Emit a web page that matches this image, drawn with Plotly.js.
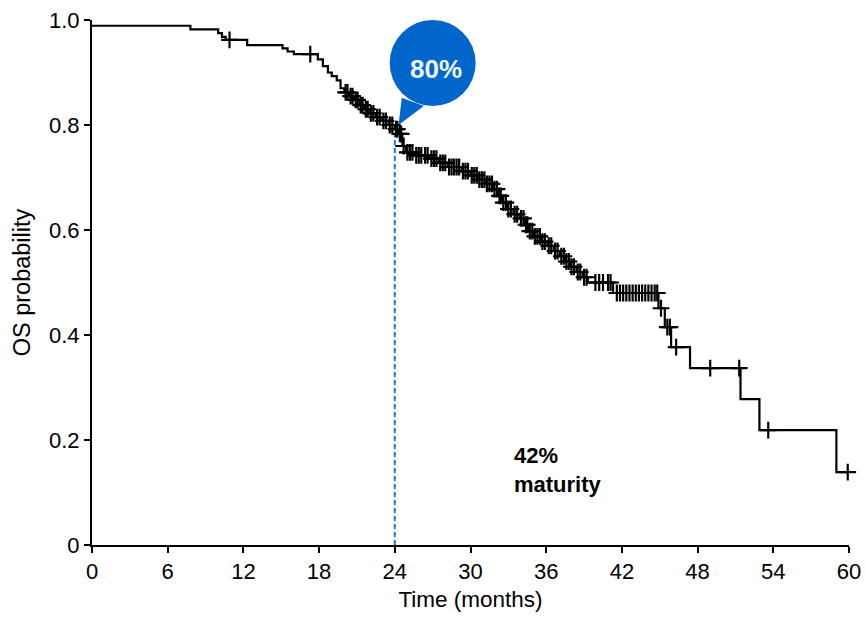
<!DOCTYPE html>
<html>
<head>
<meta charset="utf-8">
<script src="https://cdn.plot.ly/plotly-3.0.1.min.js"></script>
<style>html,body{margin:0;padding:0;background:#fff;}#chart{width:865px;height:623px;}</style>
</head>
<body>
<div id="chart"></div>
<script>
// Kaplan-Meier step curve: event times (months) and survival after each step
const stepTimes = [0, 7.8, 10.0, 10.3, 10.6, 12.3, 15.1, 15.5, 16.0, 17.9, 18.3, 18.7, 19.0, 19.4, 19.7, 20.0, 20.4, 20.8, 21.2, 21.6, 22.0, 22.5, 23.0, 23.5, 24.0, 24.3, 24.6, 24.9, 25.6, 26.8, 27.5, 28.2, 29.3, 30.0, 30.6, 31.2, 31.8, 32.2, 32.5, 32.9, 33.4, 33.9, 34.3, 34.6, 35.0, 35.6, 36.1, 36.6, 37.1, 37.5, 37.9, 38.4, 38.9, 39.3, 41.3, 44.9, 45.4, 45.9, 47.4, 51.4, 52.9, 59.0, 59.9];
const stepSurv  = [0.989, 0.982, 0.975, 0.968, 0.962, 0.952, 0.946, 0.940, 0.935, 0.925, 0.912, 0.900, 0.893, 0.885, 0.870, 0.862, 0.855, 0.848, 0.838, 0.830, 0.822, 0.815, 0.808, 0.800, 0.792, 0.783, 0.760, 0.748, 0.742, 0.736, 0.728, 0.720, 0.712, 0.704, 0.696, 0.688, 0.678, 0.665, 0.652, 0.640, 0.630, 0.622, 0.610, 0.598, 0.588, 0.578, 0.570, 0.560, 0.550, 0.540, 0.530, 0.520, 0.510, 0.500, 0.480, 0.451, 0.415, 0.377, 0.337, 0.278, 0.219, 0.139, 0.139];

// Censored observations
const censorTimes = [10.9, 17.3, 20.1, 20.25, 20.5, 20.65, 20.9, 21.05, 21.3, 21.45, 21.7, 21.85, 22.1, 22.3, 22.6, 22.8, 23.1, 23.3, 23.6, 23.8, 24.1, 24.2, 24.4, 24.5,
  24.7, 25.0, 25.2, 25.4, 25.7, 25.9, 26.1, 26.4, 26.6, 26.9, 27.1, 27.3, 27.6, 27.8, 28.0, 28.3, 28.5, 28.7, 28.9, 29.1, 29.4, 29.6, 29.8, 30.1, 30.3, 30.5, 30.7, 30.9, 31.1, 31.3, 31.5, 31.7, 31.9, 32.1, 32.3, 32.4, 32.6, 32.8, 33.0, 33.2, 33.5, 33.7, 34.0, 34.2, 34.4, 34.5, 34.7, 34.9, 35.1, 35.3, 35.5, 35.7, 35.9, 36.2, 36.4, 36.7, 36.9, 37.2, 37.4, 37.6, 37.8, 38.0, 38.2, 38.5, 38.7, 39.0, 39.2,
  39.9, 40.2, 40.5, 40.9, 41.1,
  41.6, 41.85, 42.1, 42.35, 42.6, 42.85, 43.1, 43.35, 43.6, 43.85, 44.1, 44.35, 44.6, 44.8,
  45.1, 45.6, 45.8, 46.3, 49.0, 51.3, 53.6, 59.9];
const censorSurv  = [0.962, 0.935, 0.862, 0.862, 0.855, 0.855, 0.848, 0.848, 0.838, 0.838, 0.830, 0.830, 0.822, 0.822, 0.815, 0.815, 0.808, 0.808, 0.800, 0.800, 0.792, 0.792, 0.783, 0.783,
  0.760, 0.748, 0.748, 0.748, 0.742, 0.742, 0.742, 0.742, 0.742, 0.736, 0.736, 0.736, 0.728, 0.728, 0.728, 0.720, 0.720, 0.720, 0.720, 0.720, 0.712, 0.712, 0.712, 0.704, 0.704, 0.704, 0.696, 0.696, 0.696, 0.688, 0.688, 0.688, 0.678, 0.678, 0.665, 0.665, 0.652, 0.652, 0.640, 0.640, 0.630, 0.630, 0.622, 0.622, 0.610, 0.610, 0.598, 0.598, 0.588, 0.588, 0.588, 0.578, 0.578, 0.570, 0.570, 0.560, 0.560, 0.550, 0.550, 0.540, 0.540, 0.530, 0.530, 0.520, 0.520, 0.510, 0.510,
  0.500, 0.500, 0.500, 0.500, 0.500,
  0.480, 0.480, 0.480, 0.480, 0.480, 0.480, 0.480, 0.480, 0.480, 0.480, 0.480, 0.480, 0.480, 0.480,
  0.451, 0.415, 0.415, 0.377, 0.337, 0.337, 0.219, 0.139];

const xTicks = [0, 6, 12, 18, 24, 30, 36, 42, 48, 54, 60];
const yTicks = [0, 0.2, 0.4, 0.6, 0.8, 1.0];
const yTickText = ["0", "0.2", "0.4", "0.6", "0.8", "1.0"];

const milestoneTime = 24;
const milestoneSurv = 0.785;
const milestoneLabel = "80%";
const maturityLabel = "42%<br>maturity";

const traces = [
  {
    x: stepTimes, y: stepSurv, type: 'scatter', mode: 'lines',
    line: {shape: 'hv', color: '#000', width: 2.2},
    hoverinfo: 'skip', showlegend: false
  },
  {
    x: censorTimes, y: censorSurv, type: 'scatter', mode: 'markers',
    marker: {symbol: 'cross-thin', size: 12, color: '#000', line: {color: '#000', width: 2.2}},
    cliponaxis: false, hoverinfo: 'skip', showlegend: false
  }
];

const font = "Arial, 'Liberation Sans', sans-serif";

const layout = {
  width: 865, height: 623,
  margin: {l: 92, r: 16, t: 20, b: 78},
  paper_bgcolor: '#fff', plot_bgcolor: '#fff',
  showlegend: false,
  font: {family: font, color: '#000', size: 22},
  xaxis: {
    range: [0, 60], tickvals: xTicks, ticktext: xTicks.map(String),
    showgrid: false, zeroline: false, showline: true, linecolor: '#000', linewidth: 2,
    ticks: 'outside', ticklen: 6, tickwidth: 2, tickcolor: '#000',
    tickfont: {family: font, size: 22, color: '#000'},
    title: {text: 'Time (months)', font: {family: font, size: 22.5, color: '#000'}, standoff: 8}
  },
  yaxis: {
    range: [0, 1], tickvals: yTicks, ticktext: yTickText,
    showgrid: false, zeroline: false, showline: true, linecolor: '#000', linewidth: 2,
    ticks: 'outside', ticklen: 6, tickwidth: 2, tickcolor: '#000',
    tickfont: {family: font, size: 22, color: '#000'},
    title: {text: 'OS probability', font: {family: font, size: 23.5, color: '#000'}, standoff: 12}
  },
  shapes: [
    {type: 'line', xref: 'x', yref: 'y', x0: milestoneTime, x1: milestoneTime, y0: 0, y1: milestoneSurv,
     line: {color: '#1a78e0', width: 2, dash: '5px,3px'}, layer: 'below'},
    {type: 'path', xref: 'x', yref: 'y',
     path: 'M 24.55 0.852 L 26.3 0.836 L 24.3 0.800 Z',
     fillcolor: '#0066cc', line: {width: 0}},
    {type: 'circle', xref: 'x', yref: 'y', xsizemode: 'pixel', ysizemode: 'pixel',
     xanchor: 27.0, yanchor: 0.918, x0: -43, x1: 43, y0: -43, y1: 43,
     fillcolor: '#0066cc', line: {width: 0}}
  ],
  annotations: [
    {x: 27.3, y: 0.907, xref: 'x', yref: 'y', text: '<b>' + milestoneLabel + '</b>', showarrow: false,
     font: {family: font, size: 26, color: '#eef6ff'}},
    {x: 33.3, y: 0.142, xref: 'x', yref: 'y', text: '<b>' + maturityLabel + '</b>', showarrow: false,
     xanchor: 'left', align: 'left', font: {family: font, size: 22, color: '#000'}}
  ]
};

Plotly.newPlot('chart', traces, layout, {displayModeBar: false, staticPlot: true});
</script>
</body>
</html>
